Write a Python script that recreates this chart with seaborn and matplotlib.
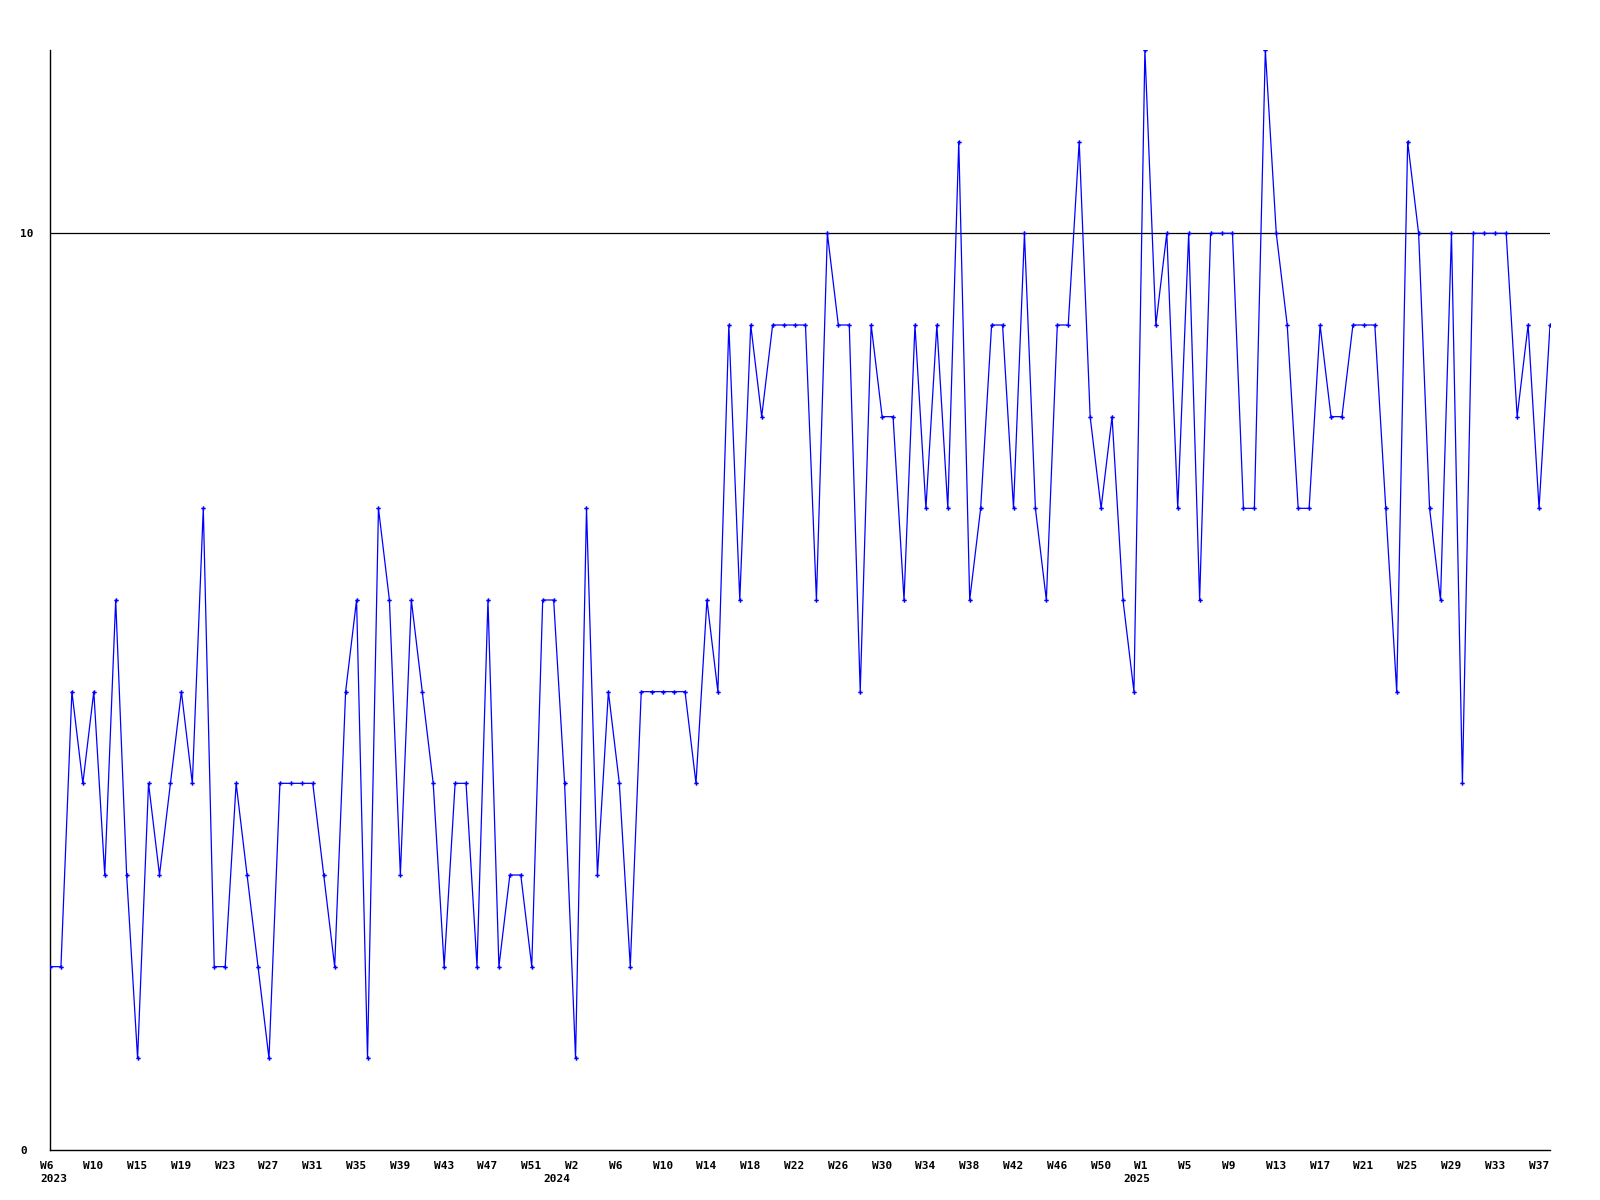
import matplotlib
matplotlib.use("Agg")
import matplotlib.pyplot as plt
import matplotlib.transforms as mtransforms
import seaborn as sns
import pandas as pd
import numpy as np

# ---- data ----
values = [2, 2, 5, 4, 5, 3, 6, 3, 1, 4,
          3, 4, 5, 4, 7, 2, 2, 4, 3, 2,
          1, 4, 4, 4, 4, 3, 2, 5, 6, 1,
          7, 6, 3, 6, 5, 4, 2, 4, 4, 2,
          6, 2, 3, 3, 2, 6, 6, 4, 1, 7,
          3, 5, 4, 2, 5, 5, 5, 5, 5, 4,
          6, 5, 9, 6, 9, 8, 9, 9, 9, 9,
          6, 10, 9, 9, 5, 9, 8, 8, 6, 9,
          7, 9, 7, 11, 6, 7, 9, 9, 7, 10,
          7, 6, 9, 9, 11, 8, 7, 8, 6, 5,
          12, 9, 10, 7, 10, 6, 10, 10, 10, 7,
          7, 12, 10, 9, 7, 7, 9, 8, 8, 9,
          9, 9, 7, 5, 11, 10, 7, 6, 10, 4,
          10, 10, 10, 10, 8, 9, 7, 9]

week_labels = ["W6", "W10", "W15", "W19", "W23", "W27", "W31", "W35", "W39",
               "W43", "W47", "W51",
               "W2", "W6", "W10", "W14", "W18", "W22", "W26", "W30", "W34",
               "W38", "W42", "W46", "W50",
               "W1", "W5", "W9", "W13", "W17", "W21", "W25", "W29", "W33", "W37"]
year_labels = ["2023", "2024", "2025"]
year_pos = [0.31, 46.27, 99.24]
ref_line = 10
y_ticks = [0, 10]

df = pd.DataFrame({"idx": np.arange(len(values)), "value": values})

sns.set_theme(style="white")
plt.rcParams["font.family"] = ["DejaVu Sans Mono", "DejaVu Sans"]

fig = plt.figure(figsize=(16, 12), dpi=100)
ax = fig.add_axes([50 / 1600, 50 / 1200, 1500 / 1600, 1100 / 1200])

ax.axhline(ref_line, color="black", lw=0.9, zorder=1)

sns.lineplot(data=df, x="idx", y="value", ax=ax, color="#0000FF",
             marker="P", markersize=3.2, markeredgewidth=0,
             linewidth=0.9, sort=False, zorder=3)

ax.set_xlim(0, len(values) - 1)
ax.set_ylim(0, 12)
ax.set_xlabel("")
ax.set_ylabel("")

for s in ["top", "right"]:
    ax.spines[s].set_visible(False)
for s in ["left", "bottom"]:
    ax.spines[s].set_color("black")
    ax.spines[s].set_linewidth(1.0)

# x ticks
tick_pos = np.arange(0, 4 * len(week_labels), 4)
ax.set_xticks(tick_pos)
ax.set_xticklabels(week_labels, fontsize=8, fontweight="bold", color="black")
ax.tick_params(axis="x", length=0, pad=8)
off = mtransforms.ScaledTranslation(-10.5 / 100, 0, fig.dpi_scale_trans)
for lab in ax.get_xticklabels():
    lab.set_horizontalalignment("left")
    lab.set_transform(lab.get_transform() + off)

# y ticks
ax.set_yticks(y_ticks)
ax.set_yticklabels([str(t) for t in y_ticks], fontsize=8, fontweight="bold", color="black")
ax.tick_params(axis="y", length=0, pad=21.6)
for lab in ax.get_yticklabels():
    lab.set_horizontalalignment("left")

# year labels
for yl, xp in zip(year_labels, year_pos):
    ax.annotate(yl, xy=(xp, 0), xycoords=("data", "axes fraction"),
                xytext=(0, -17), textcoords="offset points",
                ha="center", va="top", fontsize=8, fontweight="bold", color="black")

ax.grid(False)
fig.savefig("out.png", dpi=100, facecolor="white")
